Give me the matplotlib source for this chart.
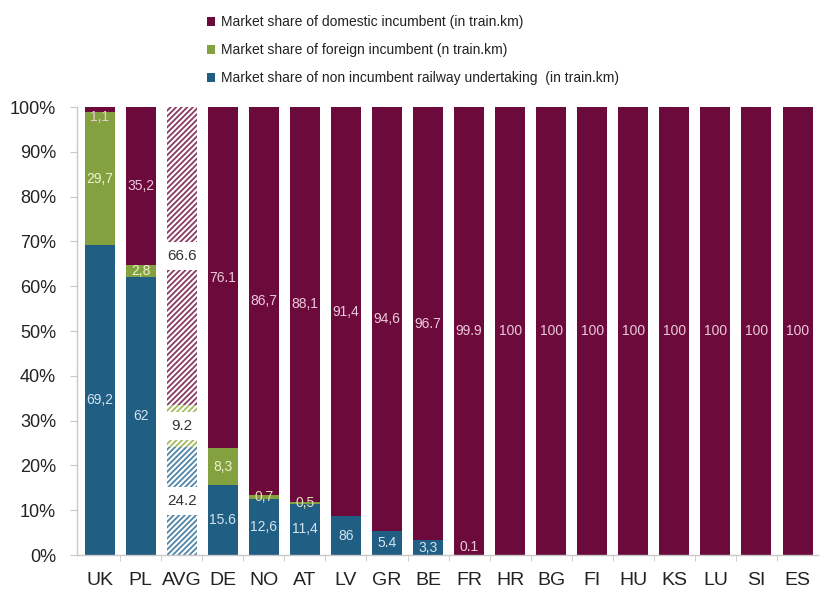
import matplotlib
matplotlib.use("Agg")
import matplotlib.pyplot as plt
from matplotlib.patches import Patch
from matplotlib.ticker import FixedLocator, PercentFormatter

plt.rcParams["font.family"] = ["Liberation Sans", "DejaVu Sans"]
plt.rcParams["hatch.linewidth"] = 1.3

countries = ["UK", "PL", "AVG", "DE", "NO", "AT", "LV", "GR", "BE", "FR",
             "HR", "BG", "FI", "HU", "KS", "LU", "SI", "ES"]

non_incumbent = [69.2, 62, 24.2, 15.6, 12.6, 11.4, 8.6, 5.4, 3.3, 0.1,
                 0, 0, 0, 0, 0, 0, 0, 0]
foreign_incumbent = [29.7, 2.8, 9.2, 8.3, 0.7, 0.5, 0, 0, 0, 0,
                     0, 0, 0, 0, 0, 0, 0, 0]
domestic_incumbent = [1.1, 35.2, 66.6, 76.1, 86.7, 88.1, 91.4, 94.6, 96.7, 99.9,
                      100, 100, 100, 100, 100, 100, 100, 100]

non_incumbent_labels = ["69,2", "62", "24.2", "15.6", "12,6", "11,4", "86", "5.4",
                        "3,3", "0.1", "", "", "", "", "", "", "", ""]
foreign_labels = ["29,7", "2,8", "9.2", "8,3", "0,7", "0,5", "", "", "", "",
                  "", "", "", "", "", "", "", ""]
domestic_labels = ["1,1", "35,2", "66.6", "76.1", "86,7", "88,1", "91,4", "94,6",
                   "96.7", "99.9", "100", "100", "100", "100", "100", "100", "100", "100"]

series_names = [
    "Market share of domestic incumbent (in train.km)",
    "Market share of foreign incumbent (n train.km)",
    "Market share of non incumbent railway undertaking  (in train.km)",
]

MAROON = "#6c0a3c"
GREEN = "#84a140"
BLUE = "#215e84"
HATCH_MAROON = "#8a3a62"
HATCH_GREEN = "#a3bb5e"
HATCH_BLUE = "#4f86a8"
TXT_MAROON = "#ecc9d9"
TXT_GREEN = "#eef3cf"
TXT_BLUE = "#d2e4ef"

avg_idx = countries.index("AVG")
x = list(range(len(countries)))
width = 0.73

fig = plt.figure(figsize=(8.23, 5.92), dpi=100)
ax = fig.add_axes([0.0936, 0.0625, 0.9004, 0.7566])

bottom_f = non_incumbent
bottom_d = [a + b for a, b in zip(non_incumbent, foreign_incumbent)]

for vals, bots, color, hcolor, labels, tcol in [
    (non_incumbent, [0] * len(x), BLUE, HATCH_BLUE, non_incumbent_labels, TXT_BLUE),
    (foreign_incumbent, bottom_f, GREEN, HATCH_GREEN, foreign_labels, TXT_GREEN),
    (domestic_incumbent, bottom_d, MAROON, HATCH_MAROON, domestic_labels, TXT_MAROON),
]:
    for i in x:
        v, b = vals[i], bots[i]
        if i == avg_idx:
            ax.bar(i, v, bottom=b, width=width, facecolor="white",
                   edgecolor=hcolor, linewidth=0, hatch="//////", zorder=2)
        elif v > 0:
            ax.bar(i, v, bottom=b, width=width, color=color, linewidth=0, zorder=2)
        lab = labels[i]
        if not lab:
            continue
        yc = b + v / 2
        if i == avg_idx:
            ax.text(i, yc, lab, ha="center", va="center", fontsize=11,
                    color="#333333", zorder=4,
                    bbox=dict(facecolor="white", edgecolor="none",
                              boxstyle="square,pad=0.45"))
            continue
        col = tcol
        if v < 1:
            # tiny segments: the label sits on the neighbouring colour
            if b < 1:
                yc, col = 1.8, TXT_MAROON
            else:
                col = "#e6e2b8"
        elif v < 2 and b + v >= 99.9:
            yc = 97.8
        ax.text(i, yc, lab, ha="center", va="center", fontsize=10,
                color=col, zorder=4)

ax.set_xlim(-0.55, 17.5)
ax.set_ylim(0, 100)
ax.set_xticks(x)
ax.set_xticklabels(countries, fontsize=14, color="#222222")
ax.xaxis.set_minor_locator(FixedLocator([i + 0.5 for i in x[:-1]]))
ax.tick_params(axis="x", which="major", length=0, pad=12)
ax.tick_params(axis="x", which="minor", length=4, color="#c8c8c8")
ax.set_yticks(range(0, 101, 10))
ax.yaxis.set_major_formatter(PercentFormatter(decimals=0))
ax.tick_params(axis="y", length=5, color="#c8c8c8", labelsize=13,
               labelcolor="#222222", pad=10)

for side in ("top", "right"):
    ax.spines[side].set_visible(False)
for side in ("left", "bottom"):
    ax.spines[side].set_color("#c8c8c8")
    ax.spines[side].set_linewidth(1.0)

handles = [Patch(facecolor=MAROON), Patch(facecolor=GREEN), Patch(facecolor=BLUE)]
fig.legend(handles, series_names, loc="upper left", bbox_to_anchor=(0.236, 0.995),
           frameon=False, fontsize=10, handlelength=0.6, handleheight=0.6,
           handletextpad=0.4, labelspacing=1.0, labelcolor="#222222")

fig.savefig("out.png", dpi=100)
